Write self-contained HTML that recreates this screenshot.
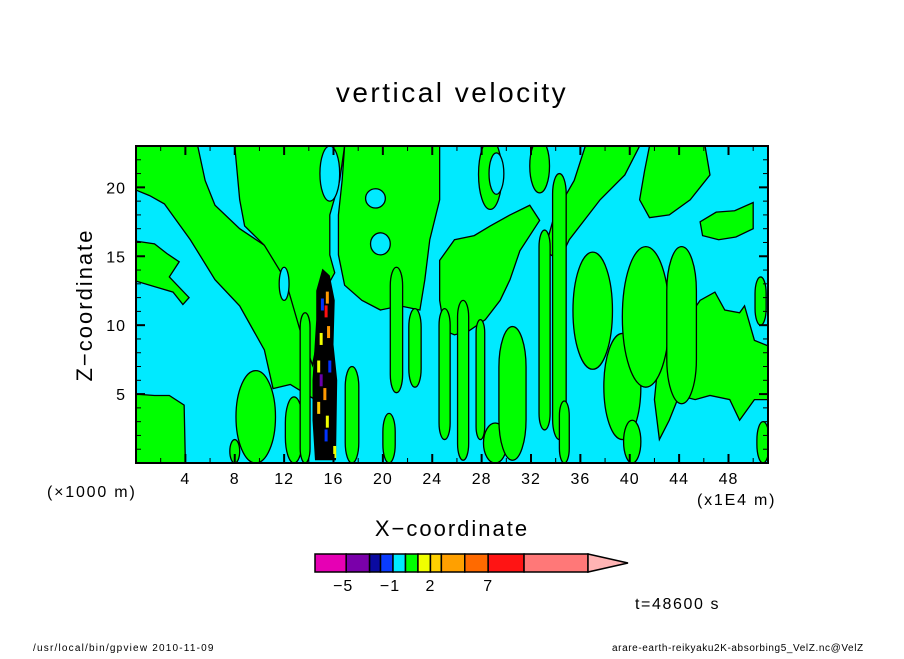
<!DOCTYPE html>
<html><head><meta charset="utf-8">
<style>
html,body{margin:0;padding:0;background:#fff;}
body{width:904px;height:654px;overflow:hidden;}
svg text{font-family:"Liberation Sans",sans-serif;fill:#000;}
</style></head>
<body>
<svg id="chart" width="904" height="654" viewBox="0 0 904 654" xmlns="http://www.w3.org/2000/svg">
<text x="452" y="102" font-size="28" letter-spacing="2.5" text-anchor="middle">vertical velocity</text>
<defs><clipPath id="plotclip"><rect x="136" y="146" width="632" height="317"/></clipPath></defs>
<rect x="136" y="146" width="632" height="317" fill="#00eaff"/>
<g id="field" clip-path="url(#plotclip)"></g>
<g id="axes"></g>
<rect x="136" y="146" width="632" height="317" fill="none" stroke="#000" stroke-width="2"/>
<text transform="translate(92,305) rotate(-90)" font-size="22" letter-spacing="2" text-anchor="middle">Z−coordinate</text>
<text x="452" y="536" font-size="22" letter-spacing="2" text-anchor="middle">X−coordinate</text>
<text x="47" y="497" font-size="16" letter-spacing="1.8">(×1000 m)</text>
<text x="697" y="505" font-size="16" letter-spacing="1.8">(x1E4 m)</text>
<g id="colorbar"></g>
<text x="635" y="609" font-size="16" letter-spacing="1.6">t=48600 s</text>
<text x="33" y="651" font-size="10" letter-spacing="1.2">/usr/local/bin/gpview  2010-11-09</text>
<text x="612" y="651" font-size="10" letter-spacing="0.6">arare-earth-reikyaku2K-absorbing5_VelZ.nc@VelZ</text>
</svg>
<script>
// axis domain
const xDomain = [0, 51.2];
const zDomain = [0, 23];
const xTicks = [4, 8, 12, 16, 20, 24, 28, 32, 36, 40, 44, 48];
const zTicks = [5, 10, 15, 20];
// green (0..1) regions: polygons in data units [x, z]
const greenPolys = [
 [[0,23],[5.0,23],[5.6,20.5],[6.4,18.7],[8.4,17.0],[10.4,15.8],[12.1,14.3],[13.3,11.8],[14.1,9.6],[14.9,7.5],[15.3,6.0],[14.5,4.6],[12.5,5.7],[11.1,5.4],[10.4,8.2],[8.4,11.4],[6.4,13.3],[4.4,16.2],[2.3,18.8],[1.1,19.4],[0,19.8]],
 [[8.0,23],[16.9,23],[16.5,20.5],[15.7,18.0],[15.7,15.1],[16.1,13.8],[15.3,12.5],[14.7,8.9],[14.3,7.1],[13.3,9.6],[12.1,13.3],[10.4,15.8],[8.8,17.2],[8.4,19.1]],
 [[16.9,23],[24.6,23],[24.6,19.1],[23.8,16.2],[23.4,13.3],[23.0,11.1],[21.4,11.4],[19.8,11.1],[18.3,11.8],[16.9,12.9],[16.4,15.1],[16.4,18.0],[16.7,20.5]],
 [[24.6,14.7],[25.8,16.2],[27.4,16.5],[28.7,17.2],[30.3,18.0],[31.9,18.7],[32.7,17.6],[31.1,15.4],[30.3,13.3],[29.5,11.8],[28.3,10.4],[27.0,9.6],[25.8,9.3],[25.0,9.6],[24.6,11.8]],
 [[36.4,23],[40.8,23],[39.6,20.9],[37.6,19.1],[35.1,16.2],[34.3,14.7],[33.1,15.4],[33.9,18.0],[35.5,20.5]],
 [[41.6,23],[46.1,23],[46.5,20.9],[44.9,19.1],[43.2,18.0],[41.6,17.8],[40.8,19.1],[41.2,21.2]],
 [[42.4,8.2],[44.0,9.6],[45.7,11.8],[46.9,12.4],[47.7,11.1],[48.9,10.9],[49.3,11.4],[50.1,8.9],[51.2,8.5],[51.2,4.6],[50.1,4.6],[48.9,3.1],[48.1,4.6],[46.5,4.9],[45.3,4.6],[44.0,4.9],[43.2,3.1],[42.4,1.7],[42.0,4.6]],
 [[45.7,17.5],[47.0,18.2],[48.5,18.3],[50.0,18.9],[50.0,17.0],[48.6,16.4],[47.2,16.2],[45.9,16.5]],
 [[0,5],[1.5,4.9],[2.7,4.9],[3.9,4.2],[4.0,0],[0,0]],
 [[0,16.1],[1.5,15.9],[2.5,15.2],[3.5,14.6],[2.7,13.5],[4.3,12.0],[3.8,11.5],[3,12.4],[1.5,12.8],[0,13.2]]
];
// streaks: [xCenter, zLow, zHigh, width] in data units
const streaks = [
 [17.5,0,7.0,1.1],[20.5,0,3.6,1.0],[21.1,5.1,14.2,1.0],[22.6,5.5,11.2,1.0],
 [25.0,1.7,11.2,0.9],[26.5,0.2,11.8,0.9],[27.9,1.7,10.4,0.7],[29.1,0,2.9,1.9],
 [30.5,0.2,9.9,2.2],[33.1,2.4,16.9,0.9],[34.3,1.7,21.0,1.1],[34.7,0,4.5,0.8],
 [37.0,6.8,15.3,3.2],[39.4,1.7,9.4,3.0],[40.2,0,3.1,1.4],[41.3,5.5,15.7,3.8],
 [44.2,4.3,15.7,2.4],[28.7,18.4,23.5,1.9],[32.7,19.6,23.5,1.6],[9.7,0,6.7,3.2],
 [12.8,0,4.8,1.4],[13.7,0,10.9,0.8],[8.0,0,1.7,0.8],[50.6,10.0,13.5,0.9],[50.8,0,3.0,1.0]
];
// cyan holes: [x, z, rx, rz]
const holes = [[19.4,19.2,0.8,0.7],[19.8,15.9,0.8,0.8],[15.7,21.0,0.8,2.0],[12.0,13.0,0.4,1.2],[29.2,21,0.6,1.5]];
// convective core column polygon
const corePoly = [[15.1,14.1],[15.7,13.6],[16.1,11.8],[16.0,8.6],[16.3,6.0],[16.2,0.2],[14.5,0.2],[14.3,3.1],[14.3,6.0],[14.6,10.4],[14.6,12.5]];
const coreSpeckX = [15.0,14.8,15.5,16.1,15.5,15.6,15.3,14.8,15.1,15.4,15.7,15.4,15.0];
const coreSpeckZ = [9.0,7.0,3.0,0.8,12.0,9.5,5.0,4.0,11.5,2.0,7.0,11.0,6.0];
const coreSpeckC = ["#f0ff00","#f0ff00","#f0ff00","#f0ff00","#ff9900","#ff9900","#ff9900","#ffcc00","#0033ff","#0033ff","#0033ff","#ff1010","#6a00aa"];
// colorbar levels
const cbColors = ["#e600b4","#7a00aa","#0a0aa0","#0a3cff","#00eaff","#00ff00","#f0ff00","#ffd000","#ffa000","#ff6a00","#ff1414","#ff7878"];
const cbWidths = [2,1.5,0.7,0.8,0.8,0.8,0.8,0.7,1.5,1.5,2.3,4.1];
const cbLabelText = ["−5","−1","2","7"];
const cbLabelIndex = [1,4,7,10];

const NS="http://www.w3.org/2000/svg";
const PX0=136,PX1=768,PY0=463,PY1=146;
function sx(v){return PX0+(v-xDomain[0])/(xDomain[1]-xDomain[0])*(PX1-PX0);}
function sz(v){return PY0-(v-zDomain[0])/(zDomain[1]-zDomain[0])*(PY0-PY1);}
function mk(tag,attrs,parent){const e=document.createElementNS(NS,tag);for(const k in attrs)e.setAttribute(k,attrs[k]);parent.appendChild(e);return e;}
const field=document.getElementById('field');
greenPolys.forEach((p,i)=>{
 const e=mk('polygon',{points:p.map(q=>sx(q[0])+','+sz(q[1])).join(' '),fill:'#00ff00',stroke:'#000','stroke-width':1.3},field);
 
 
});
streaks.forEach(s=>{
 const x=sx(s[0]),y0=sz(s[1]),y1=sz(s[2]),w=sx(s[3])-sx(0);
 const e=mk('rect',{x:x-w/2,y:y1,width:w,height:y0-y1,rx:w/2,ry:Math.min(w*1.5,(y0-y1)/2),fill:'#00ff00',stroke:'#000','stroke-width':1.3},field);
 
 
});
holes.forEach(h=>{
 const e=mk('ellipse',{cx:sx(h[0]),cy:sz(h[1]),rx:sx(h[2])-sx(0),ry:sz(0)-sz(h[3]),fill:'#00eaff',stroke:'#000','stroke-width':1.3},field);
 
 
});
const core=mk('polygon',{points:corePoly.map(q=>sx(q[0])+','+sz(q[1])).join(' '),fill:'#000'},field);


coreSpeckX.forEach((x,i)=>{
 const e=mk('rect',{x:sx(x)-1.5,y:sz(coreSpeckZ[i])-6,width:3,height:12,fill:coreSpeckC[i]},field);
 
 
});
// axes ticks
const axes=document.getElementById('axes');
for(let v=2;v<xDomain[1];v+=2){
 const major=v%4===0,len=major?9:5,sw=major?2:1;
 mk('line',{x1:sx(v),x2:sx(v),y1:PY0,y2:PY0-len,stroke:'#000','stroke-width':sw},axes);
 mk('line',{x1:sx(v),x2:sx(v),y1:PY1,y2:PY1+len,stroke:'#000','stroke-width':sw},axes);
}
for(let v=1;v<zDomain[1];v+=1){
 const major=v%5===0,len=major?9:5,sw=major?2:1;
 mk('line',{x1:PX0,x2:PX0+len,y1:sz(v),y2:sz(v),stroke:'#000','stroke-width':sw},axes);
 mk('line',{x1:PX1,x2:PX1-len,y1:sz(v),y2:sz(v),stroke:'#000','stroke-width':sw},axes);
}
xTicks.forEach(v=>{
 const t=mk('text',{x:sx(v),y:484,'font-size':16,'letter-spacing':1,'text-anchor':'middle'},axes);t.textContent=v;
 
 
});
zTicks.forEach(v=>{
 const t=mk('text',{x:126,y:sz(v)+6,'font-size':16,'letter-spacing':1,'text-anchor':'end'},axes);t.textContent=v;
 
 
});
// colorbar
const cb=document.getElementById('colorbar');
const CBX=315,CBY=554,CBH=18,unit=(588-315)/cbWidths.reduce((a,b)=>a+b,0);
let cx=CBX;const bounds=[cx];
cbColors.forEach((c,i)=>{
 const w=cbWidths[i]*unit;
 const r=mk('rect',{x:cx,y:CBY,width:w,height:CBH,fill:c,stroke:'#000','stroke-width':1.5},cb);
 
 
 cx+=w;bounds.push(cx);
});
const tri=mk('polygon',{points:`${cx},${CBY} ${cx+40},${CBY+9} ${cx},${CBY+CBH}`,fill:'#ffb4b4',stroke:'#000','stroke-width':1.5},cb);


cbLabelText.forEach((s,i)=>{
 const bx=bounds[cbLabelIndex[i]];
 const t=mk('text',{x:bx-(s.length>1?3:0),y:591,'font-size':16,'letter-spacing':1,'text-anchor':'middle'},cb);t.textContent=s;
 
 
});
</script>
</body></html>
